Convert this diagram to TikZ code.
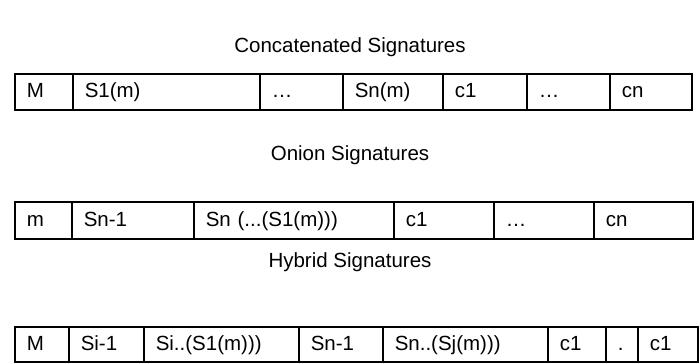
\documentclass[tikz,border=0pt]{standalone}
\usepackage{fontspec}
\setmainfont{Liberation Sans}
\begin{document}
\begin{tikzpicture}[x=1pt, y=-1pt,
  cell/.style={draw, line width=1.5pt, anchor=north west, inner xsep=12pt, inner ysep=0pt,
               align=left, text height=15pt, text depth=3pt,
               font=\fontsize{20.5}{24}\selectfont},
  title/.style={font=\fontsize{20.5}{24}\selectfont}]
\useasboundingbox (0,0) rectangle (700,362);

% Concatenated signatures
\node[title] (t1) at (350,47) {Concatenated Signatures};
\begin{scope}[every node/.append style={minimum height=36pt}]
\node[cell, text width=34pt]  (a1) at (14,73)  {M};
\node[cell, text width=163pt] (a2) at (72,73)  {S1(m)};
\node[cell, text width=59pt]  (a3) at (259,73) {…};
\node[cell, text width=76pt]  (a4) at (342,73) {Sn(m)};
\node[cell, text width=60pt]  (a5) at (442,73) {c1};
\node[cell, text width=59pt]  (a6) at (526,73) {…};
\node[cell, text width=58pt]  (a7) at (609,73) {cn};
\end{scope}

% Onion signatures
\node[title] (t2) at (350,155) {Onion Signatures};
\begin{scope}[every node/.append style={minimum height=37pt}]
\node[cell, text width=33pt]  (b1) at (14,201)  {m};
\node[cell, text width=98pt]  (b2) at (71,201)  {Sn-1};
\node[cell, text width=176pt] (b3) at (193,201) {Sn (...(S1(m)))};
\node[cell, text width=76pt]  (b4) at (393,201) {c1};
\node[cell, text width=76pt]  (b5) at (493,201) {…};
\node[cell, text width=75pt]  (b6) at (593,201) {cn};
\end{scope}

% Hybrid signatures
\node[title] (t3) at (350,262) {Hybrid Signatures};
\begin{scope}[every node/.append style={minimum height=35pt}]
\node[cell, text width=30pt]  (c1) at (14,326)  {M};
\node[cell, text width=51pt]  (c2) at (68,326)  {Si-1};
\node[cell, text width=131pt] (c3) at (143,326) {Si..(S1(m)))};
\node[cell, text width=60pt]  (c4) at (298,326) {Sn-1};
\node[cell, text width=141pt] (c5) at (382,326) {Sn..(Sj(m)))};
\node[cell, text width=34pt]  (c6) at (547,326) {c1};
\node[cell, text width=8pt]   (c7) at (605,326) {.};
\node[cell, text width=36pt]  (c8) at (637,326) {c1};
\end{scope}
\end{tikzpicture}
\end{document}
